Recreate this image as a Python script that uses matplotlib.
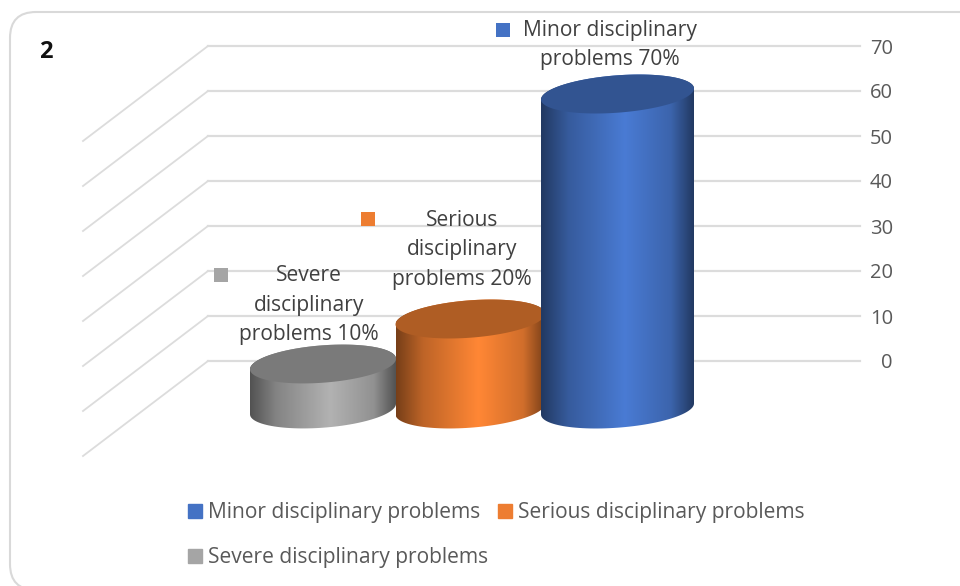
import numpy as np
import matplotlib
matplotlib.use('Agg')
import matplotlib.pyplot as plt
from matplotlib.patches import Patch, PathPatch, FancyBboxPatch, Rectangle
from matplotlib.path import Path
from matplotlib.transforms import IdentityTransform

plt.rcParams['font.family'] = ['Open Sans', 'DejaVu Sans']

W, H = 960, 586

# data
categories = ['Severe disciplinary problems', 'Serious disciplinary problems', 'Minor disciplinary problems']
values = [10, 20, 70]
colors = ['#A5A5A5', '#ED7D31', '#4472C4']
label_lines = [['Severe', 'disciplinary', 'problems'], ['Serious', 'disciplinary', 'problems'], ['Minor disciplinary', 'problems']]
ticks = [0, 10, 20, 30, 40, 50, 60, 70]

text_col = '#595959'
grid_col = '#dcdcdc'


def px(x, y):
    # pixel position in the picture -> figure fraction
    return x / W, 1 - y / H


fig = plt.figure(figsize=(W / 100, H / 100), dpi=100)

# chart border, runs off the picture on the right and at the bottom
fig.add_artist(FancyBboxPatch((10, H - 590), 1000, 578, boxstyle='round,pad=0,rounding_size=26',
                              transform=IdentityTransform(), fc='white', ec='#d9d9d9', lw=1.5, zorder=-5))

# back wall of the chart, one axis unit per value
wall_l, wall_r, wall_top, wall_bot = 208, 860, 46, 361
x0, x2 = 323, 617.5  # first and last cylinder centre
ux = (x2 - x0) / 2
uy = (wall_bot - wall_top) / 70
ax = fig.add_axes([wall_l / W, 1 - wall_bot / H, (wall_r - wall_l) / W, (wall_bot - wall_top) / H])
ax.patch.set_alpha(0)
ax.set_xlim((wall_l - x0) / ux, (wall_r - x0) / ux)
ax.set_ylim(0, 70)
for s in ax.spines.values():
    s.set_visible(False)
ax.set_xticks([])
ax.yaxis.tick_right()
ax.set_yticks(ticks)
ax.tick_params(axis='y', length=0, pad=33 * 0.72, labelsize=14.5, labelcolor=text_col)
for t in ax.get_yticklabels():
    t.set_ha('right')
    t.set_va('center_baseline')
ax.grid(axis='y', color=grid_col, lw=1.6, zorder=0, clip_on=False)
ax.set_axisbelow(True)

# side wall, lines going down to the left from each gridline
dx = 125 / ux
dy = 95 / uy
left = ax.get_xlim()[0]
for v in ticks:
    ax.plot([left, left - dx], [v, v - dy], color=grid_col, lw=1.3, clip_on=False, zorder=1)

# cylinders stand in front of the wall
floor = -48 / uy
half_h = 18.7 / uy
tilt = 0.072 * ux / uy  # rise of the ellipse, value units per category unit
stops = [0, 0.18, 0.55, 0.85, 1]
shade = [0.5, 0.8, 1.08, 0.88, 0.5]
top_shade = 0.74
xs = np.linspace(0, 1, 200)

for i, (val, col) in enumerate(zip(values, colors)):
    half_w = (73 + 1.75 * i) / ux
    t = np.linspace(0, 2 * np.pi, 121)
    ex = half_w * np.cos(t)
    ey = half_h * np.sin(t) + tilt * ex
    top = floor + val

    # outline of the body: bottom half of the floor ellipse, then up to the top ellipse
    lower = t[:61]
    xb = np.r_[i + half_w * np.cos(lower), i + half_w * np.cos(lower)[::-1]]
    yb = np.r_[floor - half_h * np.sin(lower) + tilt * half_w * np.cos(lower),
               top + half_h * np.sin(lower)[::-1] + tilt * half_w * np.cos(lower)[::-1]]
    body = PathPatch(Path(np.c_[xb, yb]), transform=ax.transData, fc='none', ec='none')

    rgb = np.array(matplotlib.colors.to_rgb(col))
    f = np.interp(xs, stops, shade)
    grad = np.clip(f[None, :, None] * rgb, 0, 1)
    ylo, yhi = floor - 2 * half_h - 1, top + 2 * half_h + 1
    im = ax.imshow(grad, extent=[i - half_w, i + half_w, ylo, yhi], aspect='auto', zorder=3 + i, interpolation='bilinear')
    im.set_clip_path(body)
    im.set_clip_box(fig.bbox)

    ax.fill(i + ex, top + ey, color=rgb * top_shade, lw=0, clip_on=False, zorder=3 + i)

ax.set_xlim((wall_l - x0) / ux, (wall_r - x0) / ux)
ax.set_ylim(0, 70)

# data labels
label_pos = [(309, 305), (462, 250), (610, 45)]
marker_pos = [(221, 275), (368, 219), (503, 30)]
for lines, val, (lx, ly), (mx, my), col in zip(label_lines, values, label_pos, marker_pos, colors):
    txt = '\n'.join(lines) + ' %d%%' % val
    fx, fy = px(lx, ly)
    fig.text(fx, fy, txt, ha='center', va='center', fontsize=15.1, color='#404040', linespacing=1.55, zorder=20)
    rx, ry = px(mx - 7, my + 7)
    fig.add_artist(Rectangle((rx, ry), 14 / W, 14 / H, transform=fig.transFigure, fc=col, ec='none', zorder=20))

fx, fy = px(46, 52)
fig.text(fx, fy, '2', ha='center', va='center', fontsize=17, fontweight='bold', color='#111111')

# legend, filled column by column: minor + severe, then serious
order = [2, 0, 1]
handles = [Patch(color=colors[i], label=categories[i]) for i in order]
leg = fig.legend(handles=handles, ncol=2, loc='upper left', bbox_to_anchor=px(188, 502), frameon=False, fontsize=15.1,
                 labelcolor=text_col, handlelength=0.67, handleheight=0.67, handletextpad=0.3, columnspacing=0.46,
                 labelspacing=1.16, borderpad=0, borderaxespad=0)

fig.savefig('out.png', dpi=100)
